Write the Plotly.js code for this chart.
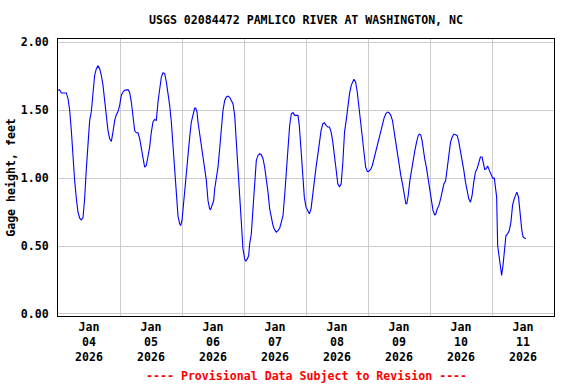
<!DOCTYPE html>
<html>
<head>
<meta charset="utf-8">
<script src="https://cdn.plot.ly/plotly-3.0.1.min.js"></script>
<style>html,body{margin:0;padding:0;background:#fff}#chart{width:576px;height:384px}</style>
</head>
<body>
<div id="chart"></div>
<script>
// Hours since 2026-01-04 00:00 and gage height (feet)
const startDate = Date.UTC(2026, 0, 4);
const hours = [0,0.6,1.29,3.23,3.87,4.52,5.16,5.81,6.45,7.1,7.74,8.39,9.03,9.68,10.32,10.97,11.61,12.26,12.9,13.55,14.19,14.84,15.48,16.13,16.77,17.42,18.06,18.71,19.35,20.0,20.65,21.29,21.94,22.58,23.23,23.87,24.52,25.16,25.81,27.1,27.74,28.39,29.03,29.68,30.32,30.97,31.61,32.26,32.9,33.55,34.19,34.84,35.48,36.13,36.77,37.42,38.06,38.71,39.35,40.0,40.65,41.29,41.94,42.58,43.23,43.87,44.52,45.16,45.81,46.45,47.1,47.48,48.0,48.39,49.03,49.68,50.32,50.97,51.61,52.26,52.9,53.29,53.81,54.19,54.84,55.48,56.13,56.77,57.42,58.06,58.71,59.1,59.61,60.26,60.65,61.29,61.94,62.58,63.23,63.87,64.52,65.16,65.81,66.45,67.1,67.74,68.39,69.03,69.68,70.32,70.97,71.61,72.26,72.65,73.29,73.81,74.19,74.84,75.48,76.13,76.77,77.42,78.06,78.71,79.35,80.0,80.65,81.29,81.94,82.58,83.23,83.87,84.52,85.16,85.81,86.45,87.1,87.74,88.39,89.03,89.68,90.32,90.97,91.61,92.9,93.4,94.05,94.7,95.35,96.0,96.65,97.3,97.95,98.59,99.24,99.89,100.54,101.19,101.84,102.49,103.13,103.78,104.43,105.08,105.73,106.38,107.02,107.67,108.32,108.97,109.62,110.27,110.92,111.56,112.21,112.86,113.51,114.16,114.55,115.2,115.84,116.49,117.14,117.79,118.44,119.09,119.74,120.25,121.03,121.68,122.33,122.98,123.63,124.27,124.92,125.57,126.22,126.87,127.52,128.17,128.81,129.46,130.11,130.76,131.41,132.06,132.7,133.35,134.0,134.65,135.04,135.56,136.21,136.86,137.5,138.15,138.8,139.45,139.9,140.4,140.92,141.3,141.95,142.59,143.23,143.87,144.51,145.16,145.8,146.18,146.82,147.47,148.11,148.75,149.39,150.03,150.68,151.32,151.96,152.6,153.24,153.88,154.53,155.17,155.81,156.45,157.09,157.74,158.38,159.02,159.66,160.3,160.94,161.59,162.23,162.87,163.51,164.15,164.8,165.18,165.69,166.34,166.98,167.62,168.26,168.9,169.29,169.8,170.19,170.83,171.21,171.47,171.73,172.25,172.76,173.4,174.04,174.68,175.33,175.96,176.6,177.25,177.63,178.27,178.92,179.56,180.07,180.46,181.1];
const gageFt = [1.646,1.651,1.627,1.627,1.585,1.50,1.35,1.14,0.98,0.85,0.75,0.705,0.693,0.71,0.85,1.07,1.28,1.425,1.49,1.60,1.757,1.806,1.826,1.806,1.757,1.683,1.572,1.413,1.35,1.29,1.27,1.34,1.425,1.467,1.49,1.536,1.61,1.634,1.646,1.651,1.63,1.56,1.45,1.35,1.334,1.334,1.29,1.216,1.13,1.08,1.093,1.155,1.228,1.339,1.413,1.432,1.425,1.56,1.658,1.744,1.776,1.77,1.708,1.634,1.536,1.413,1.24,1.044,0.823,0.72,0.663,0.651,0.688,0.774,0.897,1.02,1.167,1.30,1.413,1.46,1.516,1.516,1.486,1.413,1.327,1.265,1.155,1.069,0.983,0.835,0.774,0.769,0.80,0.835,0.92,0.995,1.081,1.216,1.364,1.499,1.572,1.597,1.604,1.595,1.572,1.548,1.462,1.265,0.995,0.823,0.663,0.479,0.405,0.388,0.405,0.43,0.516,0.59,0.774,0.995,1.13,1.167,1.18,1.172,1.143,1.081,0.995,0.897,0.774,0.713,0.651,0.619,0.602,0.614,0.631,0.676,0.725,0.872,1.02,1.216,1.388,1.474,1.482,1.462,1.462,1.388,1.216,1.007,0.86,0.786,0.762,0.737,0.774,0.885,0.995,1.081,1.167,1.265,1.351,1.40,1.408,1.388,1.376,1.376,1.339,1.265,1.155,1.069,0.958,0.934,0.958,1.118,1.339,1.425,1.536,1.622,1.683,1.72,1.727,1.708,1.634,1.523,1.425,1.302,1.192,1.081,1.049,1.049,1.064,1.093,1.143,1.204,1.265,1.314,1.351,1.40,1.442,1.474,1.486,1.482,1.462,1.425,1.339,1.265,1.192,1.118,1.02,0.958,0.885,0.811,0.811,0.872,0.983,1.069,1.143,1.204,1.265,1.314,1.324,1.319,1.278,1.216,1.143,1.081,0.995,0.909,0.811,0.762,0.73,0.732,0.774,0.799,0.848,0.909,0.958,0.978,1.081,1.192,1.265,1.302,1.324,1.32,1.314,1.265,1.204,1.13,1.057,0.97,0.897,0.848,0.823,0.872,0.97,1.044,1.069,1.106,1.155,1.155,1.106,1.064,1.069,1.088,1.057,1.02,1.0,1.0,0.921,0.86,0.504,0.418,0.332,0.302,0.283,0.356,0.455,0.577,0.59,0.614,0.676,0.799,0.848,0.885,0.897,0.86,0.713,0.614,0.565,0.558,0.553];
const titleText = "USGS 02084472 PAMLICO RIVER AT WASHINGTON, NC";
const yTitleText = "Gage height, feet";
const footnoteText = "---- Provisional Data Subject to Revision ----";
const xRange = ["2026-01-04 00:00", "2026-01-12 00:00"];
const yTickVals = [0, 0.5, 1.0, 1.5, 2.0];

function fmt(ms){ return new Date(ms).toISOString().replace('T',' ').slice(0,19); }
const times = hours.map(h => fmt(startDate + h*3600000));

const FONT = {family: "DejaVu Sans Mono, monospace", size: 11.6, color: "#000", weight: "bold"};

Plotly.newPlot('chart', [{
  x: times, y: gageFt, type: 'scatter', mode: 'lines',
  line: {color: '#0000ff', width: 1.1}, hoverinfo: 'skip'
}], {
  width: 576, height: 384,
  margin: {l: 58, r: 22, t: 39, b: 68, pad: 0},
  paper_bgcolor: '#fff', plot_bgcolor: '#fff',
  showlegend: false,
  font: FONT,
  title: {text: titleText, font: FONT, x: 0.5, xref: 'paper', y: 1 - 20/384, yanchor: 'middle'},
  xaxis: {
    type: 'date', range: xRange, dtick: 86400000, tick0: '2026-01-04',
    ticklabelmode: 'period', tickformat: '%b<br>%d<br>%Y',
    ticks: '', showgrid: true, gridcolor: '#cccccc', gridwidth: 1,
    showline: true, linecolor: '#000', linewidth: 1, mirror: true,
    tickfont: FONT, zeroline: false, fixedrange: true
  },
  yaxis: {
    range: [-0.015, 2.024], tickvals: yTickVals, tickformat: '.2f',
    ticks: '', ticklabelstandoff: 6, showgrid: true, gridcolor: '#cccccc', gridwidth: 1,
    showline: true, linecolor: '#000', linewidth: 1, mirror: true, zeroline: false,
    tickfont: FONT, title: {text: yTitleText, font: FONT, standoff: 2}, fixedrange: true
  },
  annotations: [{
    text: footnoteText, xref: 'paper', yref: 'paper', x: 0.5, y: -0.218,
    xanchor: 'center', yanchor: 'middle', showarrow: false,
    font: {family: FONT.family, size: 11.6, color: '#ff0000', weight: 'bold'}
  }]
}, {displayModeBar: false, staticPlot: true});
</script>
</body>
</html>
